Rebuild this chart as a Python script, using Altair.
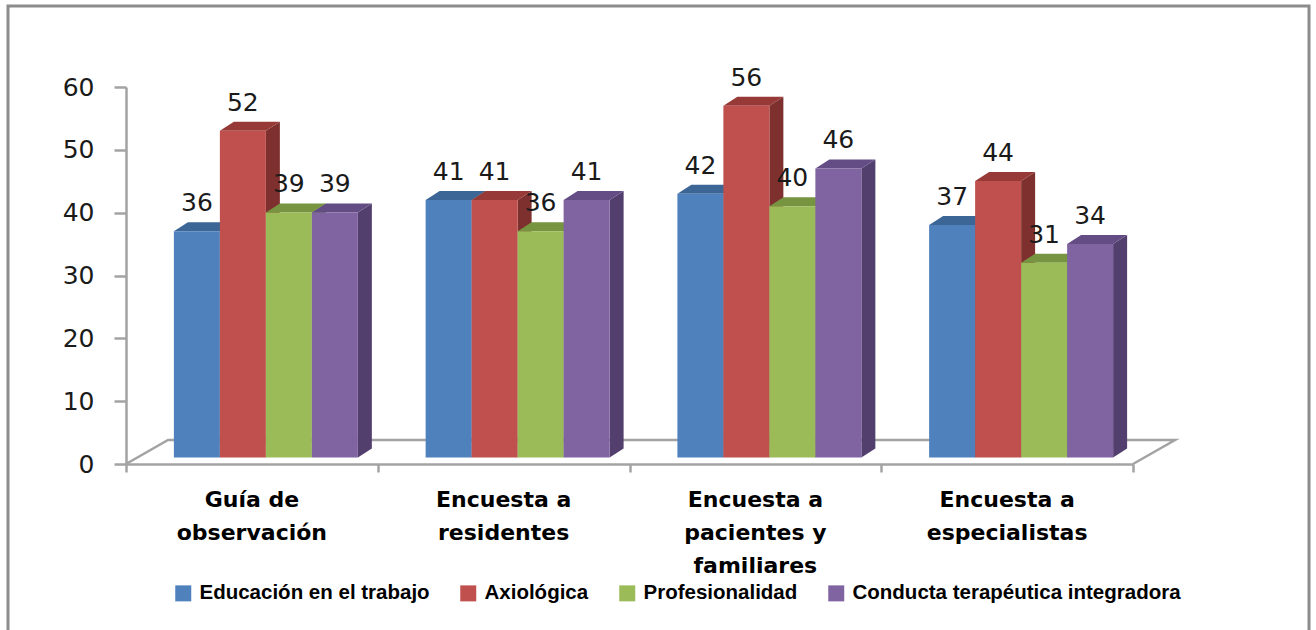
import altair as alt
import pandas as pd

# ---- data -------------------------------------------------------------
categories = [
    "Guía de\nobservación",
    "Encuesta a\nresidentes",
    "Encuesta a\npacientes y\nfamiliares",
    "Encuesta a\nespecialistas",
]
series = [
    "Educación en el trabajo",
    "Axiológica",
    "Profesionalidad",
    "Conducta terapéutica integradora",
]
educacion = [36, 41, 42, 37]
axiologica = [52, 41, 56, 44]
profesionalidad = [39, 36, 40, 31]
conducta = [39, 41, 46, 34]
series_values = [educacion, axiologica, profesionalidad, conducta]

y_ticks = [0, 10, 20, 30, 40, 50, 60]

# ---- style ------------------------------------------------------------
front_colors = ["#4F81BD", "#C0504D", "#9BBB59", "#8064A2"]
top_colors = ["#3C6696", "#973A37", "#779440", "#634D84"]
side_colors = ["#375C89", "#7E302E", "#67812F", "#523F6D"]
GRID_GRAY = "#A3A3A3"

# pseudo-3D geometry: x in category units, y in value units
BAR_W = 0.1827      # width of one bar
BAR_SHIFT = 0.0556  # group shifted right (bars sit inside the floor)
DEPTH_X = 0.0556    # bar depth, horizontal part
DEPTH_Y = 1.43      # bar depth, vertical part
LIFT = 1.03         # bars stand a little behind the front edge
FLOOR_X = 0.167
FLOOR_Y = 3.82

W, H = 1007, 377

# ---- build faces ------------------------------------------------------
fronts, tops, sides, labels = [], [], [], []
for g in range(len(categories)):
    start = g + 0.5 - 2 * BAR_W + BAR_SHIFT
    for s, name in enumerate(series):
        v = series_values[s][g]
        x0 = start + s * BAR_W
        x1 = x0 + BAR_W
        bid = f"{g}-{s}"
        fronts.append(dict(series=name, x0=x0, x1=x1, y0=LIFT, y1=v + LIFT))
        tops.append(dict(bid=bid, col=top_colors[s], yv=v + LIFT, xa=x0, xb=x1))
        tops.append(dict(bid=bid, col=top_colors[s], yv=v + LIFT + DEPTH_Y,
                         xa=x0 + DEPTH_X, xb=x1 + DEPTH_X))
        sides.append(dict(bid=bid, col=side_colors[s], xv=x1, lo=LIFT, hi=v + LIFT))
        sides.append(dict(bid=bid, col=side_colors[s], xv=x1 + DEPTH_X,
                          lo=LIFT + DEPTH_Y, hi=v + LIFT + DEPTH_Y))
        labels.append(dict(xc=(x0 + x1) / 2, yt=v + LIFT, txt=str(v)))

front_df = pd.DataFrame(fronts)
top_df = pd.DataFrame(tops)
side_df = pd.DataFrame(sides)
label_df = pd.DataFrame(labels)
cat_df = pd.DataFrame({"xc": [g + 0.5 for g in range(len(categories))],
                       "y": [0] * len(categories), "name": categories})
n = len(categories)
floor_df = pd.DataFrame({
    "fx": [0, FLOOR_X, n + FLOOR_X, n],
    "fy": [0, FLOOR_Y, FLOOR_Y, 0],
    "k": [0, 1, 2, 3],
})

# ---- scales / axes ----------------------------------------------------
xs = alt.Scale(domain=[0, n], nice=False, zero=False)
ys = alt.Scale(domain=[0, 60], nice=False, zero=False)
x_axis = alt.Axis(values=list(range(n + 1)), labels=False, title=None, grid=False,
                  tickSize=8, tickWidth=2.5, tickColor=GRID_GRAY,
                  domainColor=GRID_GRAY, domainWidth=2.5)
y_axis = alt.Axis(values=y_ticks, title=None, grid=False, tickSize=12,
                  tickWidth=2.5, tickColor=GRID_GRAY, domainColor=GRID_GRAY,
                  domainWidth=2.5, labelPadding=20, labelFont="DejaVu Sans",
                  labelFontSize=25, labelColor="#1a1a1a")

base_x = lambda f: alt.X(f"{f}:Q", scale=xs, axis=x_axis)
base_y = lambda f: alt.Y(f"{f}:Q", scale=ys, axis=y_axis)

border = alt.Chart(pd.DataFrame({"a": [0]})).mark_rect(
    fill="white", fillOpacity=0, stroke="#8C8C8C", strokeWidth=3
).encode(x=alt.value(-118), x2=alt.value(1183), y=alt.value(-81), y2=alt.value(560))

floor = alt.Chart(floor_df).mark_line(color=GRID_GRAY, strokeWidth=2.5).encode(
    x=base_x("fx"), y=base_y("fy"), order="k:Q"
)

side_layer = alt.Chart(side_df).mark_area(orient="vertical").encode(
    x=base_x("xv"), y=base_y("hi"), y2="lo:Q", detail="bid:N",
    color=alt.Color("col:N", scale=None),
)

top_layer = alt.Chart(top_df).mark_area(orient="horizontal").encode(
    y=base_y("yv"), x=base_x("xa"), x2="xb:Q", detail="bid:N",
    color=alt.Color("col:N", scale=None),
)

front_layer = alt.Chart(front_df).mark_rect().encode(
    x=base_x("x0"), x2="x1:Q", y=base_y("y0"), y2="y1:Q",
    color=alt.Color(
        "series:N",
        sort=series,
        scale=alt.Scale(domain=series, range=front_colors),
        legend=alt.Legend(
            title=None, orient="none", legendX=47, legendY=496,
            direction="horizontal", columns=4, symbolType="square",
            symbolSize=256, symbolStrokeWidth=0, labelOffset=6,
            columnPadding=28, padding=0, labelFont="Liberation Sans",
            labelFontWeight="bold", labelFontSize=20.5, labelColor="#000000",
            labelLimit=600,
        ),
    ),
)

value_labels = alt.Chart(label_df).mark_text(
    font="DejaVu Sans", fontSize=25, color="#1a1a1a", baseline="middle", dy=-28
).encode(x=base_x("xc"), y=base_y("yt"), text="txt:N")

category_labels = alt.Chart(cat_df).mark_text(
    font="DejaVu Sans", fontWeight="bold", fontSize=22, color="#000000",
    baseline="alphabetic", lineBreak="\n", lineHeight=33, dy=43,
).encode(x=base_x("xc"), y=base_y("y"), text="name:N")

chart = alt.layer(
    border, floor, side_layer, top_layer, front_layer, value_labels, category_labels
).resolve_scale(color="independent").properties(
    width=W, height=H,
    autosize=alt.AutoSizeParams(type="none"),
    padding={"left": 126, "top": 87, "right": 183, "bottom": 166},
    background="white",
).configure_view(stroke=None)

chart.save("out.html", embed_options={"renderer": "svg", "actions": False})
